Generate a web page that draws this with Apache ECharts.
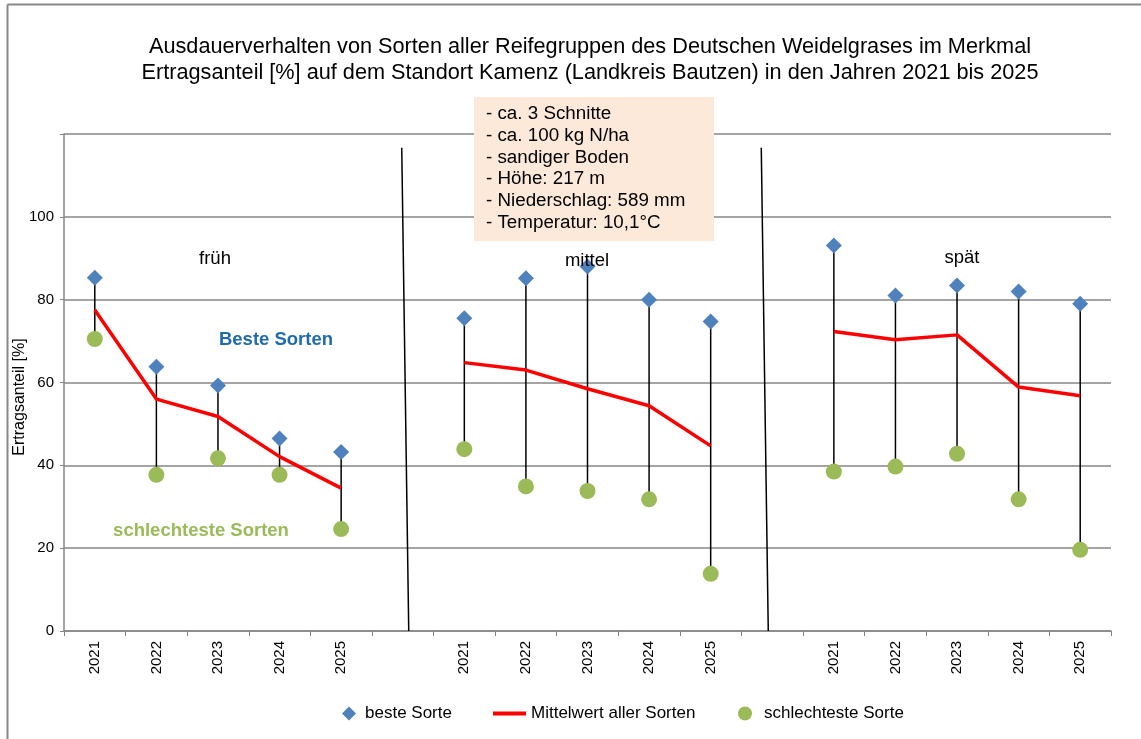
<!DOCTYPE html>
<html>
<head>
<meta charset="utf-8">
<script src="https://cdn.jsdelivr.net/npm/echarts@6/dist/echarts.min.js"></script>
<style>
html,body{margin:0;padding:0;background:#fff;}
#main{width:1141px;height:739px;}
</style>
</head>
<body>
<div id="main"></div>
<script>
const categories = ['2021','2022','2023','2024','2025','',
                    '2021','2022','2023','2024','2025','',
                    '2021','2022','2023','2024','2025'];
const besteSorte = [85.3, 63.8, 59.3, 46.5, 43.2, null,
                    75.5, 85.2, 88.0, 80.0, 74.7, null,
                    93.1, 81.0, 83.4, 82.0, 79.0];
const mittelwert = [77.5, 56.0, 51.8, 42.1, 34.5, null,
                    64.8, 63.0, 58.5, 54.4, 44.7, null,
                    72.3, 70.3, 71.5, 58.9, 56.8];
const schlechtesteSorte = [70.5, 37.7, 41.7, 37.7, 24.6, null,
                    43.9, 34.9, 33.8, 31.8, 13.8, null,
                    38.5, 39.7, 42.8, 31.8, 19.6];
const yTicks = [0, 20, 40, 60, 80, 100];
const infoLines = ['- ca. 3 Schnitte','- ca. 100 kg N/ha','- sandiger Boden','- Höhe: 217 m','- Niederschlag: 589 mm','- Temperatur: 10,1°C'];
const titleLines = ['Ausdauerverhalten von Sorten aller Reifegruppen des Deutschen Weidelgrases im Merkmal',
                    'Ertragsanteil [%] auf dem Standort Kamenz (Landkreis Bautzen) in den Jahren 2021 bis 2025'];

const FONT = '"Liberation Sans", Arial, sans-serif';
const hiLoData = [];
categories.forEach((c, i) => {
  if (besteSorte[i] != null && schlechtesteSorte[i] != null) hiLoData.push([i, besteSorte[i], schlechtesteSorte[i]]);
});

const legendText = {fontFamily: FONT, fontSize: 17, color: '#000'};
const chart = echarts.init(document.getElementById('main'), null, {renderer: 'canvas'});
const option = {
  backgroundColor: '#fff',
  animation: false,
  textStyle: {fontFamily: FONT},
  title: {
    text: titleLines.join('\n'),
    left: 585, textAlign: 'center', top: 29,
    textStyle: {fontFamily: FONT, fontSize: 21.7, fontWeight: 'normal', color: '#000', lineHeight: 26}
  },
  grid: {left: 64, right: 30, top: 134, bottom: 108, outerBoundsMode: 'none', containLabel: false},
  legend: [
    {left: 337, bottom: 12, itemWidth: 14, itemHeight: 14,
     textStyle: Object.assign({padding: [0, 0, 0, 4]}, legendText),
     data: [{name: 'beste Sorte', icon: 'diamond'}]},
    {left: 488, bottom: 12, itemWidth: 33, itemHeight: 4, textStyle: legendText,
     data: [{name: 'Mittelwert aller Sorten', icon: 'rect'}]},
    {left: 733, bottom: 12, itemWidth: 14, itemHeight: 14,
     textStyle: Object.assign({padding: [0, 0, 0, 7]}, legendText),
     data: [{name: 'schlechteste Sorte', icon: 'circle'}]}
  ],
  xAxis: {
    type: 'category', data: categories, boundaryGap: true,
    axisLine: {lineStyle: {color: '#868686', width: 1.5}},
    axisTick: {show: true, interval: 0, length: 5, lineStyle: {color: '#868686'}},
    axisLabel: {interval: 0, rotate: 90, fontSize: 15, color: '#000', margin: 10, fontFamily: FONT}
  },
  yAxis: {
    type: 'value', min: 0, max: 120, interval: 20,
    axisLine: {show: true, lineStyle: {color: '#868686', width: 1.5}},
    axisTick: {show: true, length: 4, lineStyle: {color: '#868686'}},
    axisLabel: {fontSize: 15, color: '#000', margin: 10, fontFamily: FONT,
      formatter: v => (yTicks.indexOf(v) >= 0 ? String(v) : '')},
    splitLine: {show: true, lineStyle: {color: '#868686', width: 1.5}}
  },
  series: [
    {
      name: 'hilo', type: 'custom', z: 1, silent: true,
      data: hiLoData,
      encode: {x: 0, y: [1, 2]},
      renderItem: (params, api) => {
        const p1 = api.coord([api.value(0), api.value(1)]);
        const p2 = api.coord([api.value(0), api.value(2)]);
        return {type: 'line', shape: {x1: p1[0], y1: p1[1], x2: p2[0], y2: p2[1]},
          style: {stroke: '#000', lineWidth: 1.5}};
      }
    },
    {
      name: 'Mittelwert aller Sorten', type: 'line', data: mittelwert, z: 3,
      symbol: 'none', connectNulls: false,
      lineStyle: {color: '#FF0000', width: 3.5}, itemStyle: {color: '#FF0000'}
    },
    {
      name: 'beste Sorte', type: 'scatter', data: besteSorte, z: 4,
      symbol: 'diamond', symbolSize: [16, 16],
      itemStyle: {color: '#4F81BD', opacity: 1}
    },
    {
      name: 'schlechteste Sorte', type: 'scatter', data: schlechtesteSorte, z: 4,
      symbol: 'circle', symbolSize: 16,
      itemStyle: {color: '#9BBB59', opacity: 1}
    }
  ]
};
chart.setOption(option);

function buildGraphics() {
  const g = [];
  g.push({type: 'line', shape: {x1: 7.5, y1: 4.5, x2: 1141, y2: 4.5}, style: {stroke: '#888', lineWidth: 2}, z: 10});
  g.push({type: 'line', shape: {x1: 7.5, y1: 4.5, x2: 7.5, y2: 739}, style: {stroke: '#888', lineWidth: 2}, z: 10});
  const yTop = chart.convertToPixel({yAxisIndex: 0}, 116.7);
  const yBot = chart.convertToPixel({yAxisIndex: 0}, 0);
  const x5 = chart.convertToPixel({xAxisIndex: 0}, 5);
  const x11 = chart.convertToPixel({xAxisIndex: 0}, 11);
  g.push({type: 'line', shape: {x1: x5 - 1, y1: yTop, x2: x5 + 6, y2: yBot}, style: {stroke: '#000', lineWidth: 1.5}, z: 10});
  g.push({type: 'line', shape: {x1: x11 - 11, y1: yTop, x2: x11 - 4, y2: yBot}, style: {stroke: '#000', lineWidth: 1.5}, z: 10});
  const lbl = (txt, x, y, extra) => g.push({type: 'text', z: 12, style: Object.assign({
    text: txt, x: x, y: y, textAlign: 'center', textVerticalAlign: 'middle',
    font: '18.5px ' + FONT, fill: '#000'}, extra || {})});
  lbl('früh', 215, 259);
  lbl('mittel', 587, 261);
  lbl('spät', 962, 258);
  lbl('Beste Sorten', 276, 340, {font: 'bold 18.5px ' + FONT, fill: '#1F6BB0'});
  lbl('schlechteste Sorten', 201, 531, {font: 'bold 18.5px ' + FONT, fill: '#9BBB59'});
  g.push({type: 'text', z: 12, x: 20, y: 397, rotation: Math.PI / 2,
    style: {text: 'Ertragsanteil [%]', x: 0, y: 0, textAlign: 'center', textVerticalAlign: 'middle',
      font: '16px ' + FONT, fill: '#000'}});
  g.push({type: 'rect', z: 11, shape: {x: 474, y: 97, width: 240, height: 144}, style: {fill: '#FDE9D9'}});
  infoLines.forEach((t, i) => {
    g.push({type: 'text', z: 12, style: {text: t, x: 486, y: 114 + i * 21.7, textVerticalAlign: 'middle',
      font: '18.8px ' + FONT, fill: '#000'}});
  });
  chart.setOption({graphic: g});
}
buildGraphics();
</script>
</body>
</html>
